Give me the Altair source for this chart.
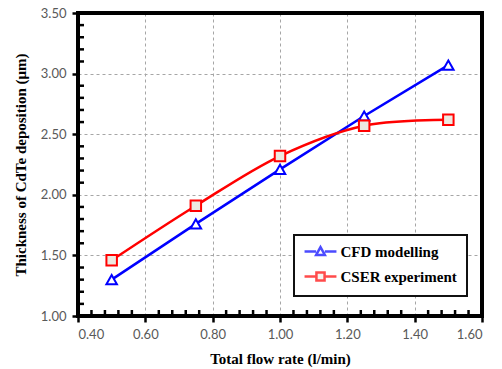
import altair as alt
import pandas as pd

flow = [0.50, 0.75, 1.00, 1.25, 1.50]
cfd = [1.30, 1.76, 2.21, 2.65, 3.07]
cser = [1.46, 1.91, 2.32, 2.57, 2.62]
series_names = ["CFD modelling", "CSER experiment"]
x_major = [0.4, 0.6, 0.8, 1.0, 1.2, 1.4, 1.6]
y_major = [1.0, 1.5, 2.0, 2.5, 3.0, 3.5]
x_minor = [round(0.4 + 0.04 * i, 2) for i in range(31) if i % 5 != 0]
y_minor = [round(1.0 + 0.1 * i, 1) for i in range(26) if i % 5 != 0]

df = pd.DataFrame({
    "flow": flow + flow,
    "thk": cfd + cser,
    "series": [series_names[0]] * 5 + [series_names[1]] * 5,
})

W, H = 404, 303
xs = alt.Scale(domain=[0.4, 1.6], nice=False, zero=False)
ys = alt.Scale(domain=[1.0, 3.5], nice=False, zero=False)

label_font = "Lato"
title_font = "Times New Roman, Liberation Serif, serif"

xaxis = alt.Axis(values=x_major, format=".2f", title="Total flow rate (l/min)",
                 grid=True, gridDash=[3, 3], gridColor="#a6a6a6", gridWidth=1,
                 tickSize=6, tickWidth=2.5, tickColor="black",
                 domainColor="black", domainWidth=3,
                 labelFont=label_font, labelFontSize=13, labelColor="#595959", labelPadding=6,
                 titleFont=title_font, titleFontSize=15, titleFontWeight="bold",
                 titleColor="black", titlePadding=10)
yaxis = alt.Axis(values=y_major, format=".2f", title="Thickness of CdTe deposition (\u03bcm)",
                 grid=True, gridDash=[3, 3], gridColor="#a6a6a6", gridWidth=1,
                 tickSize=6, tickWidth=2.5, tickColor="black",
                 domainColor="black", domainWidth=3,
                 labelFont=label_font, labelFontSize=13, labelColor="#595959", labelPadding=6,
                 titleFont=title_font, titleFontSize=15, titleFontWeight="bold",
                 titleColor="black", titlePadding=12)

color_scale = alt.Scale(domain=series_names, range=["#0000ff", "#ff0000"])
shape_scale = alt.Scale(domain=series_names, range=["triangle-up", "square"])
fill_scale = alt.Scale(domain=series_names, range=["#ffffff", "#ece9e0"])

base = alt.Chart(df)

line_cfd = base.transform_filter(alt.datum.series == series_names[0]).mark_line(
    color="#0000ff", strokeWidth=2.5
).encode(x=alt.X("flow:Q", scale=xs, axis=xaxis), y=alt.Y("thk:Q", scale=ys, axis=yaxis))

line_cser = base.transform_filter(alt.datum.series == series_names[1]).mark_line(
    color="#ff0000", strokeWidth=2.5, interpolate="catmull-rom"
).encode(x=alt.X("flow:Q", scale=xs, axis=xaxis), y=alt.Y("thk:Q", scale=ys, axis=yaxis))

points = base.mark_point(size=110, strokeWidth=2, opacity=1).encode(
    x=alt.X("flow:Q", scale=xs, axis=xaxis),
    y=alt.Y("thk:Q", scale=ys, axis=yaxis),
    stroke=alt.Stroke("series:N", scale=color_scale, legend=None),
    fill=alt.Fill("series:N", scale=fill_scale, legend=None),
    shape=alt.Shape("series:N", scale=shape_scale, legend=None),
)

# minor ticks
ymin_df = pd.DataFrame({"flow": [1.0] * len(y_minor), "thk": y_minor})
xmin_df = pd.DataFrame({"flow": x_minor, "thk": [1.0] * len(x_minor)})
yminor = alt.Chart(ymin_df).mark_rule(color="black", strokeWidth=2.5).encode(
    y=alt.Y("thk:Q", scale=ys, axis=yaxis), x=alt.value(0), x2=alt.value(6))
xminor = alt.Chart(xmin_df).mark_rule(color="black", strokeWidth=2.5).encode(
    x=alt.X("flow:Q", scale=xs, axis=xaxis), y=alt.value(H), y2=alt.value(H - 6))

# frame of the plot area
frame = alt.Chart(ymin_df).mark_rect(fill=None, stroke="black", strokeWidth=3).encode(
    x=alt.value(0), x2=alt.value(W), y=alt.value(0), y2=alt.value(H))

# legend box
legend_box = alt.Chart(ymin_df).mark_rect(fill="white", stroke="#111111", strokeWidth=2).encode(
    x=alt.value(216), x2=alt.value(389), y=alt.value(222), y2=alt.value(283))

# legend layer (no marks drawn, legend only)
tri_path = "M-1.1,0L-0.3,0M0.3,0L1.1,0M0,-0.3L0.3,0.24L-0.3,0.24Z"
sq_path = "M-1.1,0L-0.28,0M0.28,0L1.1,0M-0.28,-0.28L0.28,-0.28L0.28,0.28L-0.28,0.28Z"
leg_df = pd.DataFrame({"lseries": series_names})
leg = alt.Legend(title=None, orient="none", legendX=226.5, legendY=222.5,
                 padding=0, rowPadding=0,
                 symbolSize=841, symbolStrokeWidth=2.5, symbolOffset=0,
                 labelFont=title_font, labelFontSize=15, labelFontWeight="bold",
                 labelColor="black", labelOffset=4, labelLimit=300)
legend_layer = alt.Chart(leg_df).transform_filter("false").mark_point(strokeWidth=2.5).encode(
    stroke=alt.Stroke("lseries:N", scale=alt.Scale(domain=series_names, range=["#0000ff", "#ff0000"]),
                      legend=leg),
    fill=alt.Fill("lseries:N", scale=alt.Scale(domain=series_names, range=["#ffffff", "#ece9e0"]),
                  legend=leg),
    shape=alt.Shape("lseries:N", scale=alt.Scale(domain=series_names, range=[tri_path, sq_path]),
                    legend=leg),
)

chart = alt.layer(
    line_cfd, line_cser, yminor, xminor, points, frame, legend_box, legend_layer
).resolve_scale(
    stroke="independent", fill="independent", shape="independent"
).properties(
    width=W, height=H,
    autosize=alt.AutoSizeParams(type="none"),
    padding={"left": 78, "top": 13, "right": 20, "bottom": 53},
).configure_view(
    stroke=None
).configure_legend(
    labelFont=title_font, labelFontWeight="bold", labelFontSize=15, labelColor="black",
).configure(background="white")

chart.save("out.html", embed_options={"renderer": "svg", "actions": False})
